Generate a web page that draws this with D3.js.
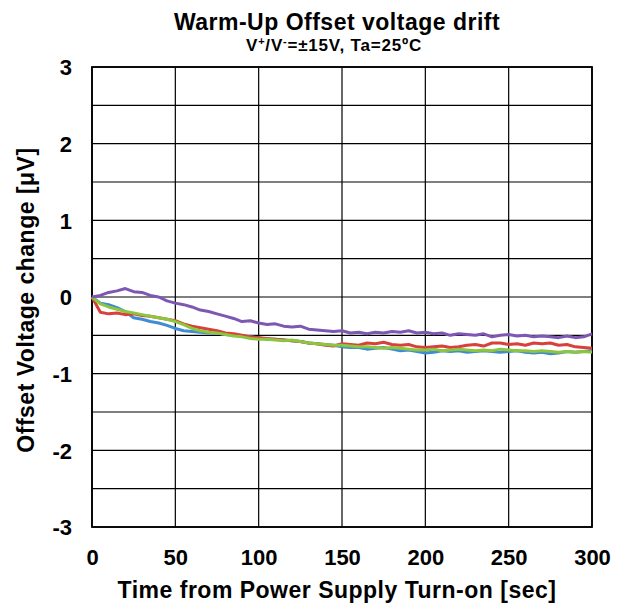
<!DOCTYPE html>
<html>
<head>
<meta charset="utf-8">
<script src="https://cdn.jsdelivr.net/npm/d3@7"></script>
<style>
  body { margin: 0; background: #fff; }
  text { font-family: "Liberation Sans", Arial, sans-serif; font-weight: bold; fill: #000; }
</style>
</head>
<body>
<div id="chart"></div>
<script>
// time axis, every 5 seconds
var timeSec = d3.range(0, 301, 5);

// offset voltage change [uV]
var purple = [0, 0.02, 0.06, 0.08, 0.11, 0.07, 0.06, 0.02, 0.0, -0.05,
  -0.08, -0.1, -0.13, -0.17, -0.19, -0.22, -0.25, -0.28, -0.32, -0.31,
  -0.34, -0.36, -0.35, -0.38, -0.39, -0.38, -0.42, -0.43, -0.44, -0.45,
  -0.44, -0.47, -0.46, -0.48, -0.46, -0.47, -0.45, -0.46, -0.44, -0.47,
  -0.46, -0.48, -0.47, -0.5, -0.48, -0.49, -0.5, -0.48, -0.52, -0.5,
  -0.49, -0.51, -0.5, -0.52, -0.51, -0.52, -0.53, -0.51, -0.53, -0.52, -0.48];
var red = [0, -0.2, -0.22, -0.21, -0.23, -0.22, -0.24, -0.25, -0.27, -0.29,
  -0.31, -0.35, -0.38, -0.4, -0.42, -0.44, -0.47, -0.48, -0.5, -0.52,
  -0.53, -0.54, -0.55, -0.56, -0.57, -0.58, -0.6, -0.61, -0.63, -0.64,
  -0.61, -0.62, -0.63, -0.6, -0.61, -0.59, -0.62, -0.63, -0.62, -0.65,
  -0.66, -0.65, -0.64, -0.66, -0.65, -0.63, -0.62, -0.64, -0.6, -0.6,
  -0.62, -0.61, -0.63, -0.6, -0.61, -0.6, -0.63, -0.62, -0.65, -0.66, -0.67];
var blue = [0, -0.08, -0.1, -0.14, -0.19, -0.27, -0.29, -0.32, -0.34, -0.37,
  -0.41, -0.44, -0.45, -0.46, -0.47, -0.47, -0.49, -0.5, -0.51, -0.52,
  -0.53, -0.55, -0.55, -0.56, -0.57, -0.58, -0.6, -0.61, -0.62, -0.63,
  -0.65, -0.66, -0.66, -0.68, -0.67, -0.66, -0.68, -0.7, -0.69, -0.71,
  -0.73, -0.72, -0.7, -0.71, -0.7, -0.72, -0.71, -0.7, -0.71, -0.72,
  -0.71, -0.7, -0.72, -0.73, -0.72, -0.74, -0.73, -0.71, -0.72, -0.71, -0.7];
var green = [0, -0.09, -0.13, -0.16, -0.19, -0.21, -0.23, -0.25, -0.27, -0.29,
  -0.32, -0.36, -0.41, -0.44, -0.46, -0.47, -0.49, -0.51, -0.52, -0.54,
  -0.55, -0.55, -0.56, -0.57, -0.56, -0.58, -0.6, -0.61, -0.62, -0.63,
  -0.63, -0.64, -0.65, -0.65, -0.66, -0.67, -0.66, -0.67, -0.68, -0.69,
  -0.69, -0.68, -0.7, -0.69, -0.68, -0.69, -0.7, -0.69, -0.7, -0.68,
  -0.69, -0.7, -0.7, -0.71, -0.7, -0.71, -0.72, -0.71, -0.72, -0.71, -0.72];

var seriesList = [
  { values: blue, color: "#3f8bd4" },
  { values: red, color: "#d8403b" },
  { values: green, color: "#8cc63f" },
  { values: purple, color: "#7d57b3" }
];

var xTicks = [0, 50, 100, 150, 200, 250, 300];
var yTicks = [-3, -2, -1, 0, 1, 2, 3];
var yGrid = d3.range(-3, 3.01, 0.5);

var width = 629, height = 613;
var margin = { left: 92, top: 67, right: 37, bottom: 86 };

var svg = d3.select("#chart").append("svg")
    .attr("width", width)
    .attr("height", height);

var x = d3.scaleLinear().domain([0, 300]).range([margin.left, width - margin.right]);
var y = d3.scaleLinear().domain([-3, 3]).range([height - margin.bottom, margin.top]);

// grid
svg.append("g").selectAll("line")
    .data(yGrid)
    .enter().append("line")
    .attr("x1", x(0)).attr("x2", x(300))
    .attr("y1", d => y(d)).attr("y2", d => y(d))
    .attr("stroke", "#000").attr("stroke-width", 1.2);

svg.append("g").selectAll("line")
    .data(xTicks)
    .enter().append("line")
    .attr("x1", d => x(d)).attr("x2", d => x(d))
    .attr("y1", y(-3)).attr("y2", y(3))
    .attr("stroke", "#000").attr("stroke-width", 1.2);

svg.append("rect")
    .attr("x", x(0)).attr("y", y(3))
    .attr("width", x(300) - x(0)).attr("height", y(-3) - y(3))
    .attr("fill", "none").attr("stroke", "#000").attr("stroke-width", 1.8);

// axes (labels only)
var xAxis = svg.append("g")
    .attr("transform", "translate(0," + y(-3) + ")")
    .call(d3.axisBottom(x).tickValues(xTicks).tickSize(0));
var yAxis = svg.append("g")
    .attr("transform", "translate(" + x(0) + ",0)")
    .call(d3.axisLeft(y).tickValues(yTicks).tickSize(0)
        .tickFormat(d => d < 0 ? "-" + Math.abs(d) : String(d)));
[xAxis, yAxis].forEach(a => {
    a.select(".domain").remove();
    a.selectAll("text")
        .style("font-size", "22px")
        .style("font-family", "'Liberation Sans', Arial, sans-serif")
        .attr("font-weight", "bold")
        .attr("fill", "#000");
});
xAxis.selectAll("text").attr("y", 38).attr("dy", null);
yAxis.selectAll("text").attr("x", -20).attr("dy", "0.36em");

// series
var line = d3.line()
    .x((d, i) => x(timeSec[i]))
    .y(d => y(d));

svg.append("g").selectAll("path")
    .data(seriesList)
    .enter().append("path")
    .attr("d", s => line(s.values))
    .attr("fill", "none")
    .attr("stroke", s => s.color)
    .attr("stroke-width", 3)
    .attr("stroke-linejoin", "round");

// titles
svg.append("text")
    .attr("x", 337).attr("y", 30)
    .attr("text-anchor", "middle")
    .style("font-size", "23px")
    .style("letter-spacing", "0.5px")
    .text("Warm-Up Offset voltage drift");

var sub = svg.append("text")
    .attr("x", 334).attr("y", 51)
    .attr("text-anchor", "middle")
    .style("font-size", "17px")
    .style("letter-spacing", "0.8px");
sub.append("tspan").text("V");
sub.append("tspan").attr("dy", -6).style("font-size", "11px").text("+");
sub.append("tspan").attr("dy", 6).text("/V");
sub.append("tspan").attr("dy", -6).style("font-size", "11px").text("-");
sub.append("tspan").attr("dy", 6).text("=±15V, Ta=25ºC");

svg.append("text")
    .attr("x", 337).attr("y", 598)
    .attr("text-anchor", "middle")
    .style("font-size", "23px")
    .style("letter-spacing", "0.5px")
    .text("Time from Power Supply Turn-on [sec]");

svg.append("text")
    .attr("transform", "translate(34," + 300 + ") rotate(-90)")
    .attr("text-anchor", "middle")
    .style("font-size", "23px")
    .style("letter-spacing", "0.5px")
    .text("Offset Voltage change [μV]");
</script>
</body>
</html>
